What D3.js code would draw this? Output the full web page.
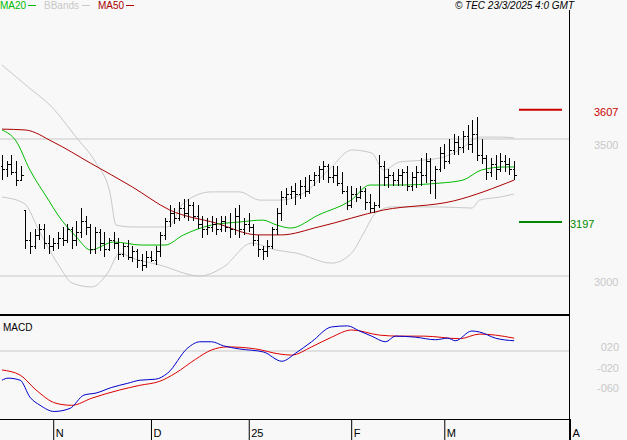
<!DOCTYPE html>
<html>
<head>
<meta charset="utf-8">
<script src="https://cdn.jsdelivr.net/npm/d3@7"></script>
<style>
  body { margin: 0; background: #f8f8f8; }
  svg { display: block; font-family: "Liberation Sans", Arial, sans-serif; }
</style>
</head>
<body>
<svg id="chart" width="627" height="440"></svg>
<script>
"use strict";

// OHLC per trading day, index 0..110
const opens  = [3400,3390,3410,3380,3350,3240,3130,3110,3150,3170,3120,3110,3120,3140,3130,3170,3130,3160,3200,3180,3100,3160,3120,3100,3130,3120,3080,3110,3070,3090,3060,3040,3070,3060,3090,3150,3200,3230,3210,3250,3230,3260,3220,3190,3170,3180,3190,3170,3200,3180,3170,3220,3170,3190,3180,3130,3100,3090,3110,3170,3230,3290,3300,3310,3300,3330,3310,3350,3370,3390,3400,3360,3370,3340,3310,3260,3300,3290,3310,3270,3250,3260,3400,3360,3370,3350,3370,3380,3330,3360,3380,3370,3420,3350,3390,3450,3420,3460,3490,3470,3510,3480,3520,3440,3430,3380,3410,3390,3420,3410,3390];
const highs  = [3440,3420,3440,3420,3400,3240,3160,3170,3190,3190,3150,3140,3160,3180,3190,3180,3200,3250,3220,3190,3180,3170,3160,3140,3160,3140,3120,3130,3110,3100,3080,3090,3090,3110,3160,3210,3260,3250,3270,3280,3280,3270,3260,3220,3210,3220,3210,3220,3220,3230,3250,3260,3210,3230,3190,3150,3110,3130,3180,3250,3310,3320,3330,3340,3350,3360,3370,3380,3400,3420,3410,3400,3400,3380,3330,3330,3320,3330,3320,3300,3270,3440,3420,3390,3380,3390,3390,3400,3380,3400,3430,3450,3430,3400,3470,3480,3500,3520,3510,3530,3550,3570,3580,3500,3440,3430,3440,3450,3440,3430,3420];
const lows   = [3350,3360,3370,3330,3350,3100,3080,3100,3130,3100,3080,3090,3100,3110,3120,3100,3110,3140,3150,3080,3080,3090,3070,3090,3100,3060,3070,3060,3050,3030,3020,3030,3050,3040,3070,3130,3180,3190,3200,3210,3200,3200,3170,3140,3150,3160,3150,3160,3160,3140,3150,3140,3150,3160,3110,3070,3060,3070,3100,3150,3200,3260,3280,3260,3280,3290,3300,3330,3340,3350,3340,3340,3330,3300,3240,3250,3270,3280,3240,3230,3230,3250,3330,3320,3330,3330,3330,3310,3310,3320,3330,3340,3300,3280,3380,3390,3410,3440,3440,3450,3460,3450,3420,3410,3350,3360,3350,3380,3380,3370,3350];
const closes = [3390,3410,3380,3350,3370,3130,3110,3150,3170,3120,3110,3120,3140,3130,3170,3130,3160,3200,3180,3100,3160,3120,3100,3130,3120,3080,3110,3070,3090,3060,3040,3070,3060,3090,3150,3200,3230,3210,3250,3230,3260,3220,3190,3170,3180,3190,3170,3200,3180,3170,3220,3170,3190,3180,3130,3100,3090,3110,3170,3230,3290,3300,3310,3300,3330,3310,3350,3370,3390,3400,3360,3370,3340,3310,3260,3300,3290,3310,3270,3250,3260,3400,3360,3370,3350,3370,3380,3330,3360,3380,3370,3420,3350,3390,3450,3420,3460,3490,3470,3510,3480,3520,3440,3430,3380,3410,3390,3420,3410,3390,3370];

// indicator lines: [day index, value]
const ma20 = [[0,3533],[3,3493],[6,3387],[10,3277],[12,3223],[16,3142],[19,3095],[24,3124],[30,3113],[35,3113],[39,3150],[45,3186],[51,3197],[56,3204],[59,3186],[62,3175],[68,3223],[75,3277],[79,3332],[85,3332],[94,3339],[99,3350],[103,3387],[108,3398],[110,3398]];
const ma50 = [[0,3536],[5,3533],[11,3489],[19,3412],[28,3325],[36,3241],[46,3193],[55,3150],[60,3150],[68,3179],[82,3241],[97,3274],[110,3350]];
const bbUpper = [[0,3770],[5.6,3690],[10.7,3617],[15.9,3507],[20.2,3412],[23.2,3303],[24.5,3186],[27.9,3179],[35.6,3179],[39,3266],[45,3307],[51,3307],[55.4,3277],[59.7,3277],[64.8,3303],[70.8,3398],[75.1,3460],[79.4,3449],[82,3387],[85.4,3416],[90.6,3423],[94.8,3434],[98.3,3460],[102.6,3507],[106.9,3507],[110,3504]];
const bbLower = [[0,3288],[4.7,3266],[8.2,3157],[12.4,3033],[15,2975],[19.3,2960],[22.7,3011],[25.3,3084],[27.9,3066],[33.9,3040],[42.5,3000],[47.6,3033],[53.6,3120],[58.8,3095],[63.1,3084],[70.8,3047],[75.1,3084],[77.7,3157],[80.3,3230],[83.7,3252],[94,3252],[100.9,3248],[102.6,3277],[106.9,3288],[110,3299]];
const macd = [[0,-0.37],[1.3,-0.33],[3.9,-0.37],[6,-0.70],[8.2,-0.86],[11.2,-0.98],[14.6,-0.92],[17.6,-0.66],[20.2,-0.62],[23.6,-0.51],[27,-0.43],[29.6,-0.37],[33,-0.35],[35.6,-0.23],[39.9,0.26],[42.5,0.38],[45,0.38],[47.6,0.30],[51,0.24],[56.2,0.18],[60.1,0.00],[63.1,0.16],[66.5,0.38],[70.8,0.67],[74.2,0.69],[76.8,0.59],[79.4,0.49],[82.4,0.38],[84.5,0.49],[88.8,0.47],[93.1,0.42],[95.7,0.45],[97.4,0.40],[100.9,0.59],[102.6,0.57],[106,0.45],[110,0.40]];
const signal = [[0,-0.17],[3.9,-0.27],[7.3,-0.56],[11.6,-0.82],[15,-0.86],[19.3,-0.72],[25.3,-0.56],[29.6,-0.47],[33.9,-0.39],[37.3,-0.23],[41.6,0.04],[45,0.22],[48.5,0.28],[54.5,0.24],[59.7,0.14],[62.2,0.12],[66.5,0.28],[70.8,0.47],[75.1,0.61],[81.1,0.51],[85.4,0.49],[90.6,0.49],[98.3,0.44],[102.6,0.53],[106,0.51],[110,0.45]];

const monthTicks = [11, 32, 53, 75, 95, 122];
const monthLabels = ["N", "D", "25", "F", "M", "A"];
const priceTicks = [3000, 3500];
const macdTicks = [0.2, -0.2, -0.6];
const levels = [{ v: 3607, label: "3607", color: "#cc0000", lx: 594 }, { v: 3197, label: "3197", color: "#008800", lx: 570 }];

const svg = d3.select("#chart");
const W = 569;

const x = d3.scaleLinear().domain([0, 122]).range([2, 570]);
const y = d3.scaleLinear().domain([3000, 3500]).range([276, 139]);
const ym = d3.scaleLinear().domain([0.2, -0.2]).range([351, 371.5]);

// grid lines
svg.selectAll(".pgrid").data(priceTicks).join("line")
  .attr("x1", 0).attr("x2", W).attr("y1", d => y(d)).attr("y2", d => y(d))
  .attr("stroke", "#c8c8c8");
svg.append("line").attr("x1", 0).attr("x2", W).attr("y1", ym(0.2)).attr("y2", ym(0.2)).attr("stroke", "#c8c8c8");

// price labels
svg.selectAll(".plab").data(priceTicks).join("text")
  .attr("x", 594).attr("y", d => y(d) + 10).attr("font-size", 11).attr("fill", "#c8c8c8")
  .text(d => d);
svg.selectAll(".mlab").data(macdTicks).join("text")
  .attr("x", 619).attr("y", d => ym(d)).attr("text-anchor", "end").attr("font-size", 11).attr("fill", "#c8c8c8")
  .text(d => (d < 0 ? "-" : "") + "0" + String(Math.round(Math.abs(d) * 100)).padStart(2, "0"));

// level markers
levels.forEach(l => {
  svg.append("line").attr("x1", 519).attr("x2", 562).attr("y1", y(l.v)).attr("y2", y(l.v))
    .attr("stroke", l.color).attr("stroke-width", 2);
  svg.append("text").attr("x", l.lx).attr("y", y(l.v) + 6).attr("font-size", 11).attr("fill", l.color).text(l.label);
});

const curve = d3.curveMonotoneX;
const line = d3.line().curve(curve).x(d => x(d[0])).y(d => y(d[1]));
const lineM = d3.line().curve(curve).x(d => x(d[0])).y(d => ym(d[1]));

svg.append("path").attr("d", line(bbUpper)).attr("fill", "none").attr("stroke", "#c8c8c8");
svg.append("path").attr("d", line(bbLower)).attr("fill", "none").attr("stroke", "#c8c8c8");
svg.append("path").attr("d", line(ma50)).attr("fill", "none").attr("stroke", "#aa0000");
svg.append("path").attr("d", line(ma20)).attr("fill", "none").attr("stroke", "#00bb00");

// OHLC bars
const bars = svg.append("g").attr("stroke", "#000").attr("shape-rendering", "crispEdges");
closes.forEach((c, i) => {
  const bx = Math.round(x(i)) + 0.5;
  bars.append("line").attr("x1", bx).attr("x2", bx).attr("y1", y(highs[i])).attr("y2", y(lows[i]));
  bars.append("line").attr("x1", bx - 2).attr("x2", bx).attr("y1", Math.round(y(opens[i])) + 0.5).attr("y2", Math.round(y(opens[i])) + 0.5);
  bars.append("line").attr("x1", bx).attr("x2", bx + 2).attr("y1", Math.round(y(c)) + 0.5).attr("y2", Math.round(y(c)) + 0.5);
});

// MACD
svg.append("path").attr("d", lineM(signal)).attr("fill", "none").attr("stroke", "#dd0000");
svg.append("path").attr("d", lineM(macd)).attr("fill", "none").attr("stroke", "#0000cc");
svg.append("text").attr("x", 3).attr("y", 331).attr("font-size", 10).attr("fill", "#000").text("MACD");

// frame
svg.append("line").attr("x1", 0).attr("x2", W).attr("y1", 315).attr("y2", 315).attr("stroke", "#000").attr("stroke-width", 2);
svg.append("line").attr("x1", W + 0.5).attr("x2", W + 0.5).attr("y1", 10).attr("y2", 440).attr("stroke", "#000");

// time axis
const xAxis = d3.axisBottom(x).tickValues(monthTicks).tickSize(21).tickFormat((d, i) => monthLabels[i]);
const ax = svg.append("g").attr("transform", "translate(0,419)").call(xAxis);
ax.select(".domain").attr("d", "M0,0.5H" + W);
ax.selectAll("text").attr("text-anchor", "start").attr("dx", 2).attr("dy", -6)
  .attr("font-size", 11).attr("font-family", "Liberation Sans, Arial, sans-serif").attr("fill", "#000");

// legend
const legend = [{ t: "MA20", c: "#00bb00", w: 28 }, { t: "BBands", c: "#c8c8c8", w: 38 }, { t: "MA50", c: "#aa0000", w: 28 }];
let lx = 0;
legend.forEach(l => {
  svg.append("text").attr("x", lx).attr("y", 9).attr("font-size", 10).attr("fill", l.c).text(l.t);
  svg.append("line").attr("x1", lx + l.w).attr("x2", lx + l.w + 8).attr("y1", 5.5).attr("y2", 5.5).attr("stroke", l.c);
  lx += l.w + 16;
});
svg.append("text").attr("x", 574).attr("y", 9).attr("text-anchor", "end").attr("font-size", 10)
  .attr("font-style", "italic").attr("fill", "#000").text("© TEC 23/3/2025 4:0 GMT");
</script>
</body>
</html>
